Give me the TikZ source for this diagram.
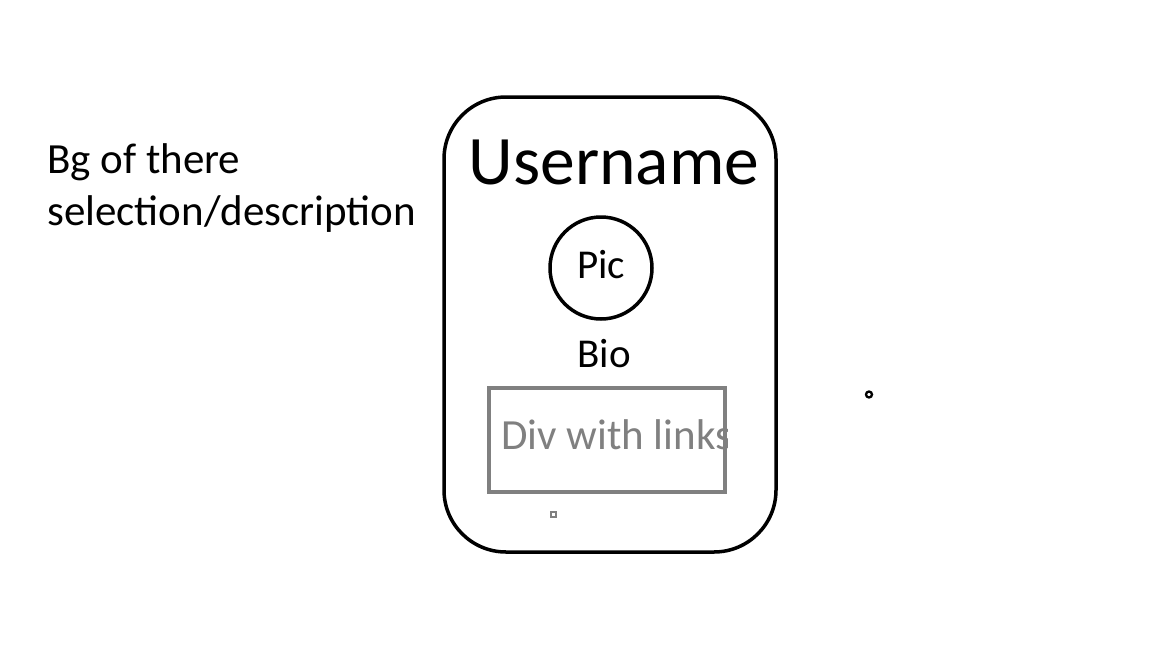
\documentclass[tikz,border=0pt]{standalone}
\usepackage{fontspec}
\setmainfont{Carlito}
\definecolor{boxgray}{RGB}{128,128,128}
\begin{document}
\begin{tikzpicture}[x=1pt,y=-1pt,
  txt/.style={inner sep=0pt, anchor=base west, font=\fontsize{43}{52}\selectfont},
  card/.style={draw=black, line width=3.5pt, rounded corners=62pt, minimum width=332pt, minimum height=455pt, inner sep=0pt},
  picstyle/.style={circle, draw=black, line width=3.5pt, minimum size=102pt, inner sep=0pt, text height=20pt, text depth=0pt, font=\fontsize{41}{48}\selectfont},
  linkbox/.style={draw=boxgray, line width=4pt, minimum width=236pt, minimum height=104pt, inner sep=0pt}]
\useasboundingbox[fill=white] (0,0) rectangle (1152,648);
\node[card] (card) at (610,324.5) {};
\node[txt] (bg1) at (47,173) {Bg of there};
\node[txt] (bg2) at (47,225) {selection/description};
\node[inner sep=0pt, anchor=base, font=\fontsize{69.5}{80}\selectfont] (user) at (614,184) {Username};
\node[picstyle] (pic) at (601,268) {Pic};
\node[inner sep=0pt, anchor=base, font=\fontsize{41}{48}\selectfont] (bio) at (604,367) {Bio};
\node[linkbox] (links) at (607,440) {};
\begin{scope}
\clip (489,388) rectangle (727,492);
\node[txt, text=boxgray] (linkstxt) at (501,449) {Div with links};
\end{scope}
\node[circle, draw=black, line width=2.3pt, minimum size=6pt, inner sep=0pt] (dot) at (869,394.5) {};
\node[rectangle, draw=boxgray, line width=2pt, minimum size=5pt, inner sep=0pt] (sq) at (553.5,514.5) {};
\end{tikzpicture}
\end{document}
